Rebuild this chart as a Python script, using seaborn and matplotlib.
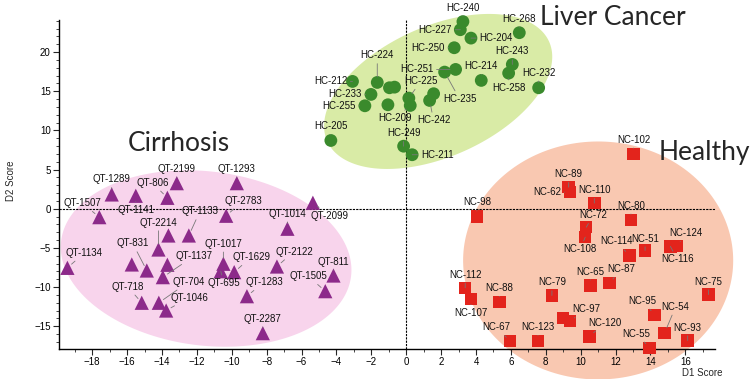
import numpy as np
import pandas as pd
import matplotlib
matplotlib.use("Agg")
import matplotlib.pyplot as plt
import seaborn as sns
from matplotlib.ticker import MultipleLocator

# --- data ---
hc_names = ["HC-240", "HC-227", "HC-204", "HC-268", "HC-250", "HC-243", "HC-258", "HC-232",
            "HC-214", "HC-251", "HC-235", "HC-224", "HC-212", "HC-233", "HC-255", "", "",
            "", "HC-225", "HC-209", "HC-242", "", "HC-205", "HC-249", "HC-211"]
hc_x = [3.25, 3.10, 3.71, 6.48, 2.75, 6.08, 5.87, 7.59, 4.30, 2.83, 2.20, -1.66, -3.08,
        -2.02, -2.37, -0.96, -0.67, -1.05, 0.15, 0.23, 1.34, 1.57, -4.32, -0.15, 0.34]
hc_y = [23.9, 22.86, 21.79, 22.48, 20.56, 18.43, 17.32, 15.45, 16.39, 17.79, 17.45, 16.13,
        16.26, 14.60, 13.15, 15.45, 15.53, 13.28, 14.13, 13.19, 13.83, 14.69, 8.72, 7.99, 6.90]

qt_names = ["QT-1289", "QT-1141", "QT-806", "QT-2199", "QT-1293", "QT-1507", "QT-2783",
            "QT-2099", "QT-1014", "QT-1133", "", "QT-2214", "QT-831", "", "QT-1134",
            "QT-1137", "", "QT-1017", "QT-695", "QT-1629", "QT-704", "QT-718", "QT-1046",
            "QT-1283", "QT-2122", "QT-811", "QT-1505", "QT-2287"]
qt_x = [-16.88, -15.50, -13.69, -13.15, -9.71, -17.59, -10.32, -5.35, -6.81, -12.46, -13.63,
        -14.20, -14.87, -15.73, -19.42, -13.95, -13.69, -10.48, -10.63, -9.86, -14.18, -15.16,
        -13.76, -9.13, -7.41, -4.17, -4.64, -8.22]
qt_y = [1.83, 1.66, 1.40, 3.27, 3.27, -1.07, -0.89, 0.77, -2.55, -3.41, -3.41, -5.20, -7.88,
        -7.11, -7.54, -8.73, -7.15, -7.02, -7.97, -8.09, -12.0, -12.0, -12.99, -11.16, -7.37,
        -8.52, -10.52, -15.88]

nc_names = ["NC-102", "NC-89", "NC-62", "NC-110", "NC-98", "NC-80", "NC-72", "NC-108",
            "NC-114", "NC-51", "NC-124", "NC-116", "NC-112", "NC-107", "NC-88", "NC-79",
            "NC-65", "NC-87", "NC-75", "NC-97", "", "NC-120", "NC-67", "NC-123", "NC-95",
            "NC-54", "NC-93", "NC-55"]
nc_x = [13.03, 9.31, 9.40, 10.78, 4.05, 12.88, 10.32, 10.26, 12.79, 13.69, 15.52, 15.14,
        3.38, 3.71, 5.35, 8.35, 10.55, 11.64, 17.33, 9.37, 8.97, 10.51, 5.96, 7.55, 14.24,
        14.81, 16.13, 13.95]
nc_y = [7.02, 2.76, 2.12, 0.72, -0.98, -1.40, -2.35, -3.62, -5.96, -5.33, -4.77, -4.81,
        -10.09, -11.49, -11.93, -11.07, -9.80, -9.50, -10.95, -14.35, -13.92, -16.31, -16.91,
        -16.91, -13.54, -15.84, -16.82, -17.75]

# label offsets in pixels (right, up)
label_offsets = {
    "HC-240": (0, 14), "HC-227": (-25, 0), "HC-204": (25, 0), "HC-268": (0, 14),
    "HC-250": (-26, 0), "HC-243": (0, 13), "HC-258": (0, -15), "HC-232": (0, 15),
    "HC-214": (0, 14), "HC-251": (-39, 0), "HC-235": (15, -27), "HC-224": (0, 27),
    "HC-212": (-22, 0), "HC-233": (-26, 0), "HC-255": (-26, 0), "HC-225": (12, 17),
    "HC-209": (-15, -13), "HC-242": (4, -20), "HC-205": (0, 14), "HC-249": (0, 13),
    "HC-211": (25, 0),
    "QT-1289": (0, 15), "QT-1141": (0, -14), "QT-806": (-15, 15), "QT-2199": (0, 14),
    "QT-1293": (0, 14), "QT-1507": (-17, 14), "QT-2783": (17, 15), "QT-2099": (17, -13),
    "QT-1014": (0, 15), "QT-1133": (11, 24), "QT-2214": (0, 27), "QT-831": (-14, 27),
    "QT-1134": (17, 15), "QT-1137": (31, 21), "QT-1017": (0, 20), "QT-695": (3, -12),
    "QT-1629": (17, 15), "QT-704": (30, 21), "QT-718": (-14, 16), "QT-1046": (23, 13),
    "QT-1283": (17, 14), "QT-2122": (17, 15), "QT-811": (0, 14), "QT-1505": (-17, 15),
    "QT-2287": (0, 14),
    "NC-102": (0, 14), "NC-89": (0, 13), "NC-62": (-23, 0), "NC-110": (0, 13),
    "NC-98": (0, 14), "NC-80": (0, 14), "NC-72": (7, 12), "NC-108": (-5, -12),
    "NC-114": (-13, 14), "NC-51": (0, 12), "NC-124": (9, 13), "NC-116": (7, -13),
    "NC-112": (0, 13), "NC-107": (0, -14), "NC-88": (0, 14), "NC-79": (0, 13),
    "NC-65": (0, 14), "NC-87": (12, 14), "NC-75": (0, 13), "NC-97": (17, 12),
    "NC-120": (15, 14), "NC-67": (-14, 14), "NC-123": (0, 14), "NC-95": (-12, 14),
    "NC-54": (11, 26), "NC-93": (0, 13), "NC-55": (-13, 14),
}

groups = [
    dict(label="Liver Cancer", names=hc_names, x=hc_x, y=hc_y, marker="o", s=85,
         color="#3a8a2c", fill="#d9eba6", ell=((1.83, 14.98), 6.97, 3.73, 24.2),
         title_xy=(7.68, 23.4)),
    dict(label="Cirrhosis", names=qt_names, x=qt_x, y=qt_y, marker="^", s=105,
         color="#8c2a8a", fill="#f8d4ec", ell=((-11.47, -6.35), 8.37, 4.99, -7.0),
         title_xy=(-15.94, 7.36)),
    dict(label="Healthy", names=nc_names, x=nc_x, y=nc_y, marker="s", s=80,
         color="#e3241c", fill="#f9c8b1", ell=((11.0, -6.6), 7.74, 6.82, 0.0),
         title_xy=(14.47, 6.17)),
]

sns.set_style("ticks")
plt.rcParams["font.family"] = ["Liberation Sans", "DejaVu Sans"]

fig = plt.figure(figsize=(7.5, 3.79), dpi=100)
ax = fig.add_axes([0.0787, 0.0792, 0.8747, 0.868])
xlim = (-19.9, 17.7)
ylim = (-17.9, 24.1)
ax.set_xlim(*xlim)
ax.set_ylim(*ylim)

# pixel scale so the ellipses keep their on-screen shape
bb = ax.get_window_extent()
ppx = bb.width / (xlim[1] - xlim[0])
ppy = bb.height / (ylim[1] - ylim[0])

t = np.linspace(0, 2 * np.pi, 200)
for g in groups:
    (cx, cy), a, b, ang = g["ell"]
    th = np.radians(ang)
    ex = cx + a * np.cos(t) * np.cos(th) - b * np.sin(t) * np.sin(th)
    ey = cy + (a * np.cos(t) * np.sin(th) + b * np.sin(t) * np.cos(th)) * ppx / ppy
    ax.fill(ex, ey, color=g["fill"], lw=0, zorder=0, clip_on=False)

ax.axhline(0, color="black", lw=0.8, ls=(0, (2, 1)), zorder=1)
ax.axvline(0, color="black", lw=0.8, ls=(0, (2, 1)), zorder=1)

for g in groups:
    df = pd.DataFrame({"x": g["x"], "y": g["y"]})
    sns.scatterplot(data=df, x="x", y="y", ax=ax, marker=g["marker"], s=g["s"],
                    color=g["color"], edgecolor="none", zorder=3, clip_on=False)
    for name, x, y in zip(g["names"], g["x"], g["y"]):
        if not name:
            continue
        dx, dy = label_offsets[name]
        ax.annotate(name, (x, y), xytext=(dx, dy), textcoords="offset pixels",
                    ha="center", va="center", fontsize=7, color="#111111", zorder=4,
                    annotation_clip=False,
                    arrowprops=dict(arrowstyle="-", color="#777777", lw=0.6,
                                    shrinkA=0, shrinkB=4))
    ax.text(g["title_xy"][0], g["title_xy"][1], g["label"], fontsize=19,
            family=["Lato", "DejaVu Sans"], ha="left", va="baseline", zorder=5)

sns.despine(ax=ax)
ax.xaxis.set_major_locator(MultipleLocator(2))
ax.xaxis.set_minor_locator(MultipleLocator(1))
ax.yaxis.set_major_locator(MultipleLocator(5))
ax.yaxis.set_minor_locator(MultipleLocator(1))
ax.tick_params(axis="both", which="major", length=4, width=0.8, labelsize=7, pad=2,
               labelcolor="black")
ax.tick_params(axis="both", which="minor", length=2, width=0.6)
for sp in ax.spines.values():
    sp.set_linewidth(1.0)
    sp.set_color("black")

ax.set_xlabel("D1 Score", fontsize=7)
ax.set_ylabel("D2 Score", fontsize=7)
ax.xaxis.set_label_coords(0.98, -0.057)
ax.yaxis.set_label_coords(-0.066, 0.51)

fig.savefig("out.png", dpi=100)
